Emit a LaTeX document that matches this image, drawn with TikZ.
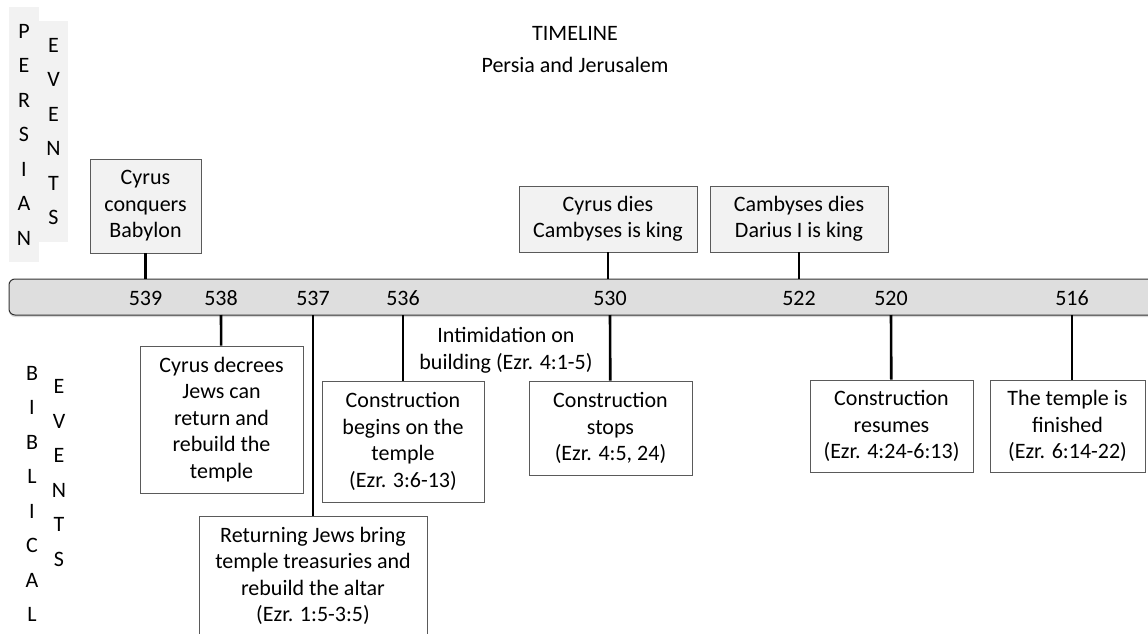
\documentclass[tikz,border=0pt]{standalone}
\usepackage{fontspec}
\setmainfont{Carlito}
\usetikzlibrary{positioning,shadows}
\definecolor{boxline}{RGB}{90,90,90}
\definecolor{persfill}{RGB}{242,242,242}
\definecolor{barfill}{RGB}{222,222,222}
\definecolor{barline}{RGB}{50,50,50}

\begin{document}
\begin{tikzpicture}[x=1pt,y=-1pt,
                       every node/.style={font=\fontsize{22}{26.5}\selectfont,inner sep=0pt},
                       pers node/.style={draw=boxline,fill=persfill,line width=0.9pt,align=center},
                       bib node/.style={draw=boxline,fill=white,line width=0.9pt,align=center},
                       side label/.style={align=center,font=\fontsize{22}{34.5}\selectfont},
                       tick/.style={line width=2.6pt}
                      ]
   \useasboundingbox (0,0) rectangle (1148,634);
   \node (title) at (575,33) {TIMELINE};
   \node (subtitle) at (575,65) {Persia and Jerusalem};
   \node[side label,fill=persfill,minimum width=30,minimum height=255] (persian) at (24,134.5) {P\\E\\R\\S\\I\\A\\N};
   \node[side label,fill=persfill,minimum width=29,minimum height=221] (pevents) at (53.5,131.5) {E\\V\\E\\N\\T\\S};
   \node[side label] (biblical) at (32,494) {B\\I\\B\\L\\I\\C\\A\\L};
   \node[side label] (bevents) at (59,473) {E\\V\\E\\N\\T\\S};
   % the time bar, open at the right edge
   \path[fill=barfill,draw=barline,line width=1pt,rounded corners=6,
         drop shadow={shadow xshift=0pt,shadow yshift=-2pt,opacity=0.3}]
     (1148,279) -- (9,279) -- (9,315) -- (1148,315);
   \coordinate (bartop) at (0,279);
   \coordinate (barbot) at (0,315);
   \node (y539) at (145.5,298) {539};
   \node (y538) at (221,298) {538};
   \node (y537) at (313,298) {537};
   \node (y536) at (403,298) {536};
   \node (y530) at (610,298) {530};
   \node (y522) at (799,298) {522};
   \node (y520) at (891,298) {520};
   \node (y516) at (1072,298) {516};
   \node[pers node,minimum width=111,minimum height=94] (conquer) at (145.5,206) {Cyrus\\conquers\\Babylon};
   \node[pers node,minimum width=178,minimum height=66] (cyrusdies) at (608,219) {Cyrus dies\\Cambyses is king};
   \node[pers node,minimum width=178,minimum height=66] (cambdies) at (799,219) {Cambyses dies\\Darius I is king};
   \node[bib node,minimum width=163,minimum height=147] (decree) at (221.5,419.5) {Cyrus decrees\\Jews can\\return and\\rebuild the\\temple};
   \node[bib node,minimum width=228,minimum height=120] (returning) at (313,576) {Returning Jews bring\\temple treasuries and\\rebuild the altar\\(Ezr. 1:5-3:5)};
   \node[bib node,minimum width=162,minimum height=121] (begins) at (403,441.5) {Construction\\begins on the\\temple\\(Ezr. 3:6-13)};
   \node[align=center] (intim) at (506,350) {Intimidation on\\building (Ezr. 4:1-5)};
   \node[bib node,minimum width=163,minimum height=94] (stops) at (610.5,428) {Construction\\stops\\(Ezr. 4:5, 24)};
   \node[bib node,minimum width=163,minimum height=92] (resumes) at (891.5,426) {Construction\\resumes\\(Ezr. 4:24-6:13)};
   \node[bib node,minimum width=155,minimum height=92] (finished) at (1067.5,426) {The temple is\\finished\\(Ezr. 6:14-22)};
   \path[tick]%
    (conquer) edge (conquer |- bartop)
    (cyrusdies) edge (cyrusdies |- bartop)
    (cambdies) edge (cambdies |- bartop)
    (y538 |- barbot) edge (decree)
    (y537 |- barbot) edge (returning)
    (y536 |- barbot) edge (begins)
    (y530 |- barbot) edge (stops)
    (y520 |- barbot) edge (resumes)
    (y516 |- barbot) edge (y516 |- finished.north);
  \end{tikzpicture}
\end{document}
